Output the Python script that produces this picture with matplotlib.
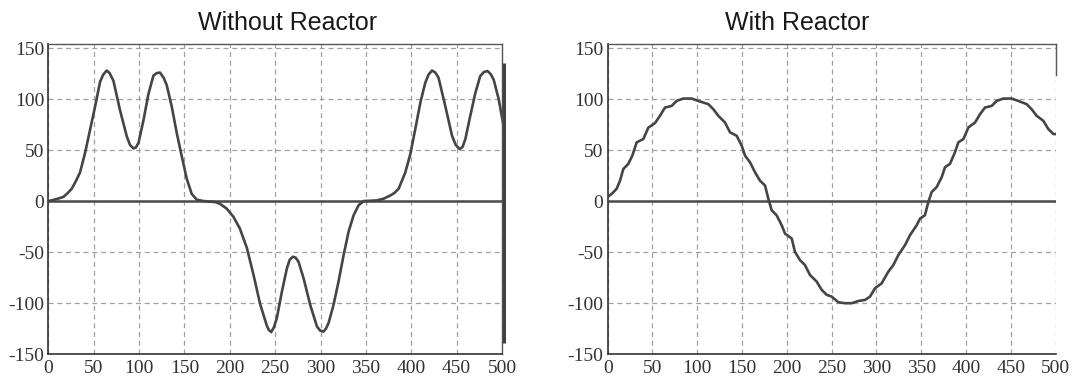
import matplotlib
matplotlib.use("Agg")
import matplotlib.pyplot as plt

# Current waveform without a line reactor (angle in degrees, amplitude)
without_x = [0, 5, 10, 16.5, 21, 25.7, 30, 34.9, 40.4, 46, 51.5, 57, 60.5, 64.3, 67.5, 71.7,
             79, 86.4, 90, 93.75, 96.5, 99.3, 104.8, 110.3, 115.8, 119.5, 123, 127, 130.5,
             136, 141.5, 147, 152.6, 158, 163.6, 171, 184, 189, 196.5, 204, 211, 218.8,
             226, 233.4, 240.7, 243, 245.6, 248.5, 251.8, 257.4, 262.9, 266, 269.5, 272.5,
             275.7, 281.3, 288.6, 296, 299.5, 303.3, 306, 308.8, 314.3, 319.8, 325.4,
             330.9, 336.4, 341.9, 347.4, 362, 369.5, 377, 381.5, 386, 393.4, 398.9, 404.4,
             410, 415.4, 419, 422.8, 426.5, 430, 437.5, 444.9, 449, 453.3, 456.5, 459.6,
             465, 470.6, 476, 480, 484, 487.5, 490.8, 496.3, 501]
without_y = [0, 1, 2.2, 4, 7.5, 12, 19, 28, 47, 70, 92.6, 117, 124, 128, 125.5, 118,
             89, 63.5, 55, 51.6, 52.5, 57, 79, 105, 123, 125.5, 126, 121, 113.5,
             92.6, 66.8, 44, 21.6, 7, 1.3, 0, -1, -2.6, -7.4, -15.5, -26.8, -46,
             -72, -101, -122, -126.5, -128.5, -124, -114.8, -88.8, -66, -57.5, -54.6, -55.5,
             -59.5, -75.8, -101.8, -123, -127, -128, -125, -119.7, -101.8, -79, -53,
             -30, -14, -4.2, 0, 0.6, 2.3, 5.5, 8, 12, 28, 46, 70.6,
             96.6, 116, 124, 128, 126, 121, 93, 64, 55, 51, 53, 60.8,
             83.6, 106, 122.6, 126.5, 127.5, 124.5, 119, 100, 77]

# Current waveform with a line reactor
with_x = [0, 4.5, 10, 13.8, 17.5, 23, 27.5, 32.4, 39.8, 45.4, 52.8, 58.4, 64, 71.4, 77,
          84.4, 93.75, 101, 112.4, 118, 123.5, 131, 136.6, 144, 149.6, 153.3, 158.9,
          164.4, 170, 175.6, 179.3, 183, 188.6, 194.2, 198, 205.4, 209, 214.7, 220.2,
          225.8, 233.3, 238.8, 244.4, 250, 257.4, 265, 272.3, 279.8, 287.2, 292.8,
          298.4, 305.8, 313.2, 318.8, 324.4, 331.8, 337.4, 344.9, 348.6, 354, 357.9,
          361.6, 367.2, 372.8, 376.5, 382, 387.6, 391.4, 397, 402.6, 410, 415.6, 421.1,
          428.6, 434.2, 441.6, 451, 458.3, 467.6, 473.2, 478.8, 486.2, 491.8, 497.4, 500]
with_y = [4, 7, 12, 20, 31.5, 36.4, 44.5, 57.6, 60.8, 72, 76.4, 83.6, 91.7, 93.3, 98.2,
          100.5, 100.5, 98.2, 95, 90, 83.6, 77, 67.3, 64, 54.3, 44.5, 38,
          28.3, 20, 15.3, 2.3, -9, -14, -23.7, -32, -36.7, -49.8, -58, -62.8,
          -72.5, -79, -87, -92, -93.7, -99.2, -100.2, -100.2, -98, -97, -93.7,
          -85.5, -80.7, -69.3, -62.8, -53, -43.3, -33.5, -23.7, -17.2, -14, -1,
          8.8, 13.7, 23.4, 33.2, 36.4, 47.8, 57.6, 60.8, 72.2, 77, 85.2, 91.7,
          93.3, 98.2, 100.5, 100.5, 98.2, 95, 90, 83.6, 78.7, 70.6, 65.7, 65.7]

x_ticks = [0, 50, 100, 150, 200, 250, 300, 350, 400, 450, 500]
y_ticks = [-150, -100, -50, 0, 50, 100, 150]
titles = ["Without Reactor", "With Reactor"]

# extent of the trace's closing edge on the left panel
edge_span = (-139, 135)

line_color = "#454545"
tick_font = {"family": "Liberation Serif", "size": 14, "color": "#333333"}

fig = plt.figure(figsize=(10.89, 3.80), dpi=100)
ax_l = fig.add_axes([0.0444, 0.0684, 0.4166, 0.8158])
ax_r = fig.add_axes([0.558, 0.0684, 0.4114, 0.8158])


def style_axes(ax):
    ax.set_xlim(0, 500)
    ax.set_ylim(-150, 154)
    ax.set_xticks(x_ticks)
    ax.set_yticks(y_ticks)
    ax.set_xticklabels([str(v) for v in x_ticks], fontdict=tick_font)
    ax.set_yticklabels([str(v) for v in y_ticks], fontdict=tick_font)
    ax.tick_params(axis="both", length=0)
    ax.tick_params(axis="x", pad=4)
    ax.tick_params(axis="y", pad=3)
    ax.grid(True, color="#a0a0a0", linestyle=(0, (4, 3)), linewidth=0.9)
    ax.set_axisbelow(True)
    for side in ("left", "bottom"):
        ax.spines[side].set_color("#333333")
        ax.spines[side].set_linewidth(1.2)
    for side in ("top", "right"):
        ax.spines[side].set_color("#555555")
        ax.spines[side].set_linewidth(1.0)
    ax.axhline(0, color="#4a4a4a", linewidth=1.8, zorder=3)


style_axes(ax_l)
style_axes(ax_r)

ax_l.plot(without_x, without_y, color=line_color, linewidth=1.9, zorder=4,
          solid_joinstyle="round")
ax_l.vlines(502.5, edge_span[0], edge_span[1], color="#404040", linewidth=2.2,
            clip_on=False, zorder=4)

ax_r.plot(with_x, with_y, color=line_color, linewidth=1.9, zorder=4,
          solid_joinstyle="round")
ax_r.spines["right"].set_bounds(124, 154)

fig.text(0.2645, 0.9395, titles[0], ha="center", va="center",
         fontsize=18, family="Liberation Sans", color="#1a1a1a")
fig.text(0.732, 0.9395, titles[1], ha="center", va="center",
         fontsize=18, family="Liberation Sans", color="#1a1a1a")

fig.savefig("out.png", dpi=100)
